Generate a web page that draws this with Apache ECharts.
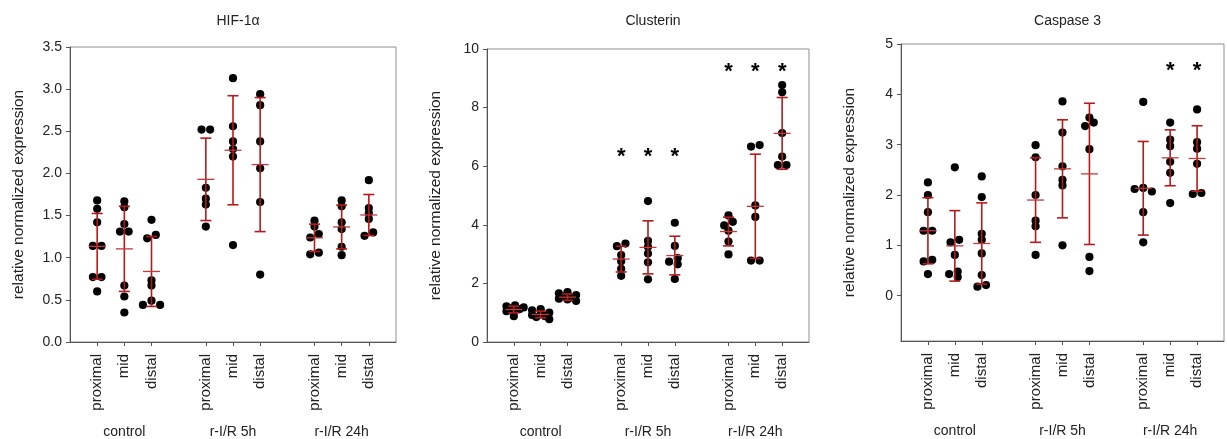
<!DOCTYPE html>
<html><head><meta charset="utf-8">
<script src="https://cdn.jsdelivr.net/npm/echarts@6/dist/echarts.min.js"></script>
<style>html,body{margin:0;padding:0;background:#fff}#c{width:1227px;height:439px}</style>
</head><body><div id="c"></div>
<script>
// ---------------- DATA ----------------
const groups = ['control', 'r-I/R 5h', 'r-I/R 24h'];
const regions = ['proximal', 'mid', 'distal'];
const titles = ['HIF-1\u03b1', 'Clusterin', 'Caspase 3'];
const yName = 'relative normalized expression';

// subgroup order: control prox/mid/distal, 5h prox/mid/distal, 24h prox/mid/distal
const hifPoints = [
  [1.68, 1.58, 1.42, 1.14, 1.14, 0.77, 0.77, 0.60],
  [1.67, 1.60, 1.40, 1.31, 1.31, 0.67, 0.54, 0.35],
  [1.45, 1.27, 1.23, 0.73, 0.67, 0.49, 0.44, 0.44],
  [2.52, 2.52, 1.83, 1.70, 1.63, 1.37],
  [3.13, 2.56, 2.38, 2.29, 2.20, 1.15],
  [2.94, 2.81, 2.38, 2.06, 1.66, 0.80],
  [1.44, 1.37, 1.28, 1.24, 1.06, 1.04],
  [1.68, 1.61, 1.42, 1.34, 1.13, 1.03],
  [1.92, 1.59, 1.53, 1.46, 1.30, 1.26]
];
const hifMean = [1.135, 1.105, 0.837, 1.93, 2.275, 2.105, 1.236, 1.365, 1.507];
const hifSD   = [0.39, 0.505, 0.415, 0.489, 0.647, 0.795, 0.162, 0.26, 0.243];
const hifStars = [];
const hifStarY = [];
const hifTicks = [0, 0.5, 1, 1.5, 2, 2.5, 3, 3.5];

const cluPoints = [
  [1.25, 1.22, 1.18, 1.15, 1.12, 1.10, 1.05, 0.88],
  [1.12, 1.08, 1.00, 0.95, 0.92, 0.88, 0.85, 0.78],
  [1.70, 1.66, 1.60, 1.56, 1.52, 1.48, 1.45, 1.40],
  [3.36, 3.27, 2.97, 2.76, 2.50, 2.26],
  [4.81, 3.45, 3.25, 3.02, 2.72, 2.14],
  [4.07, 3.28, 2.86, 2.74, 2.65, 2.15],
  [4.32, 4.10, 3.98, 3.80, 3.43, 2.99],
  [6.72, 6.67, 4.66, 4.27, 2.78, 2.78],
  [8.77, 8.52, 7.13, 6.33, 6.04, 6.04]
];
const cluMean = [1.11, 0.94, 1.53, 2.83, 3.23, 2.95, 3.77, 4.63, 7.12];
const cluSD   = [0.115, 0.115, 0.108, 0.44, 0.905, 0.66, 0.49, 1.78, 1.225];
const cluStars = [3, 4, 5, 6, 7, 8];
const cluStarY = [6.49, 6.49, 6.49, 9.40, 9.40, 9.40];
const cluTicks = [0, 2, 4, 6, 8, 10];

const casPoints = [
  [2.25, 2.00, 1.66, 1.29, 1.29, 0.71, 0.68, 0.43],
  [2.55, 1.11, 1.06, 0.81, 0.48, 0.43, 0.37],
  [2.37, 1.96, 1.23, 1.11, 0.84, 0.41, 0.21, 0.18],
  [2.99, 2.75, 2.00, 1.49, 1.38, 0.81],
  [3.86, 3.24, 2.57, 2.30, 2.19, 1.00],
  [3.54, 3.44, 3.37, 2.91, 0.77, 0.49],
  [3.85, 2.14, 2.12, 2.07, 1.66, 1.06],
  [3.44, 3.10, 2.97, 2.66, 2.44, 1.84],
  [3.70, 3.05, 2.92, 2.62, 2.04, 2.02]
];
const casMean = [1.29, 0.99, 1.037, 1.90, 2.52, 2.42, 2.134, 2.739, 2.726];
const casSD   = [0.657, 0.70, 0.807, 0.84, 0.974, 1.403, 0.93, 0.555, 0.65];
const casStars = [7, 8];
const casStarY = [4.57, 4.57];
const casTicks = [0, 1, 2, 3, 4, 5];

// ---------------- BUILD ----------------
const panels = [
  {points: hifPoints, mean: hifMean, sd: hifSD, stars: hifStars, starY: hifStarY, ticks: hifTicks,
   min: 0, max: 3.5, dec: 1, grid: {left: 70, top: 47, width: 326, height: 296}},
  {points: cluPoints, mean: cluMean, sd: cluSD, stars: cluStars, starY: cluStarY, ticks: cluTicks,
   min: 0, max: 10, dec: 0, grid: {left: 487, top: 49, width: 322, height: 295}},
  {points: casPoints, mean: casMean, sd: casSD, stars: casStars, starY: casStarY, ticks: casTicks,
   min: -0.9, max: 5, dec: 0, grid: {left: 901, top: 44, width: 323, height: 297}}
];

const slots = [];
groups.forEach((g, gi) => { if (gi === 0) slots.push(''); regions.forEach(r => slots.push(r)); slots.push(''); });
const groupSlots = slots.map((s, i) => s === 'mid' ? groups[Math.floor(i / 4)] : '');
const slotOf = k => 1 + Math.floor(k / 3) * 4 + (k % 3);

const RED = '#b31b1b';
const FONT = "'Liberation Sans', Arial, sans-serif";
const S = 4.3, DX = 7.5, TY = 4.6, R = 4.1;

function swarm(ys) {
  const n = ys.length;
  const order = [...Array(n).keys()].sort((a, b) => ys[a] - ys[b]);
  const off = new Array(n).fill(0);
  const placed = [];
  const cands = [0, -S, S, -2 * S, 2 * S];
  order.forEach(i => {
    const nb = placed.filter(j => Math.abs(ys[j] - ys[i]) < TY);
    let chosen = null, best = null, bestScore = -1;
    for (const c of cands) {
      let mdx = Infinity, me = Infinity;
      nb.forEach(j => {
        mdx = Math.min(mdx, Math.abs(c - off[j]));
        me = Math.min(me, Math.hypot(c - off[j], ys[i] - ys[j]));
      });
      if (mdx >= DX) { chosen = c; break; }
      if (me > bestScore) { bestScore = me; best = c; }
    }
    off[i] = chosen !== null ? chosen : best;
    placed.push(i);
  });
  // centre each connected cluster
  const par = [...Array(n).keys()];
  const find = a => par[a] === a ? a : (par[a] = find(par[a]));
  for (let a = 0; a < n; a++) for (let b = a + 1; b < n; b++)
    if (Math.abs(ys[a] - ys[b]) < TY) par[find(a)] = find(b);
  const comps = {};
  for (let a = 0; a < n; a++) (comps[find(a)] = comps[find(a)] || []).push(a);
  Object.values(comps).forEach(m => {
    const mu = m.reduce((s, a) => s + off[a], 0) / m.length;
    m.forEach(a => off[a] -= mu);
  });
  return off;
}

const option = {
  animation: false,
  backgroundColor: '#fff',
  title: [], grid: [], xAxis: [], yAxis: [], series: []
};

panels.forEach((P, p) => {
  option.title.push({
    text: titles[p], left: P.grid.left + P.grid.width / 2, top: 9, textAlign: 'center',
    textStyle: {fontFamily: FONT, fontSize: 14, fontWeight: 'normal', color: '#222'}
  });
  option.grid.push(Object.assign({show: true, borderColor: '#8f8f8f', borderWidth: 1, backgroundColor: 'transparent'}, P.grid));
  option.xAxis.push({
    type: 'category', gridIndex: p, data: slots.map((_, i) => String(i)), boundaryGap: false,
    axisLine: {onZero: false, lineStyle: {color: '#555', width: 1}},
    axisTick: {length: 4, interval: (i) => slots[i] !== '', lineStyle: {color: '#555'}},
    axisLabel: {interval: 0, rotate: 90, margin: 12, formatter: (v, i) => slots[i],
      fontFamily: FONT, fontSize: 15, color: '#222'},
    splitLine: {show: false}
  });
  option.xAxis.push({
    type: 'category', gridIndex: p, position: 'bottom', offset: 83, data: slots.map((_, i) => 'g' + i),
    boundaryGap: false, axisLine: {show: false, onZero: false}, axisTick: {show: false},
    axisLabel: {interval: 0, margin: 0, formatter: (v, i) => groupSlots[i],
      fontFamily: FONT, fontSize: 14, color: '#222'},
    splitLine: {show: false}
  });
  option.yAxis.push({
    type: 'value', gridIndex: p, min: P.min, max: P.max,
    name: yName, nameLocation: 'middle', nameGap: 43, nameRotate: 90,
    nameTextStyle: {fontFamily: FONT, fontSize: 15.5, color: '#222'},
    axisLine: {show: true, onZero: false, lineStyle: {color: '#555', width: 1}},
    axisTick: {show: true, length: 4, customValues: P.ticks, lineStyle: {color: '#555'}},
    axisLabel: {customValues: P.ticks, margin: 8, formatter: v => Number(v).toFixed(P.dec),
      fontFamily: FONT, fontSize: 14, color: '#222'},
    splitLine: {show: false}
  });

  const ptData = [];
  P.points.forEach((arr, k) => arr.forEach((v, j) => ptData.push([slotOf(k), v, k, j])));
  option.series.push({
    type: 'custom', xAxisIndex: 2 * p, yAxisIndex: p, z: 2, data: ptData,
    renderItem: (params, api) => {
      const slot = api.value(0), v = api.value(1), k = api.value(2), j = api.value(3);
      const ys = P.points[k].map(val => api.coord([slot, val])[1]);
      const off = swarm(ys);
      const c = api.coord([slot, v]);
      return {type: 'circle', shape: {cx: c[0] + off[j], cy: c[1], r: R}, style: {fill: '#000'}};
    }
  });

  const ebData = P.mean.map((m, k) => [slotOf(k), m, P.sd[k]]);
  option.series.push({
    type: 'custom', xAxisIndex: 2 * p, yAxisIndex: p, z: 3, data: ebData,
    renderItem: (params, api) => {
      const slot = api.value(0), m = api.value(1), sd = api.value(2);
      const c = api.coord([slot, m]), t = api.coord([slot, m + sd]), b = api.coord([slot, m - sd]);
      const ls = {stroke: RED, lineWidth: 1.6};
      return {type: 'group', children: [
        {type: 'line', shape: {x1: t[0], y1: t[1], x2: b[0], y2: b[1]}, style: ls},
        {type: 'line', shape: {x1: t[0] - 5.5, y1: t[1], x2: t[0] + 5.5, y2: t[1]}, style: ls},
        {type: 'line', shape: {x1: b[0] - 5.5, y1: b[1], x2: b[0] + 5.5, y2: b[1]}, style: ls},
        {type: 'line', shape: {x1: c[0] - 8.5, y1: c[1], x2: c[0] + 8.5, y2: c[1]}, style: {stroke: '#c23a3a', lineWidth: 1.3}}
      ]};
    }
  });

  if (P.stars.length) {
    option.series.push({
      type: 'custom', xAxisIndex: 2 * p, yAxisIndex: p, z: 3,
      data: P.stars.map((k, i) => [slotOf(k), P.starY[i]]),
      renderItem: (params, api) => {
        const c = api.coord([api.value(0), api.value(1)]);
        return {type: 'text', x: c[0], y: c[1] + 5, style: {text: '*', fill: '#000',
          font: "bold 22px 'Liberation Sans', Arial, sans-serif", align: 'center', verticalAlign: 'middle'}};
      }
    });
  }
});

const chart = echarts.init(document.getElementById('c'), null, {renderer: 'canvas'});
chart.setOption(option);
</script>
</body></html>
